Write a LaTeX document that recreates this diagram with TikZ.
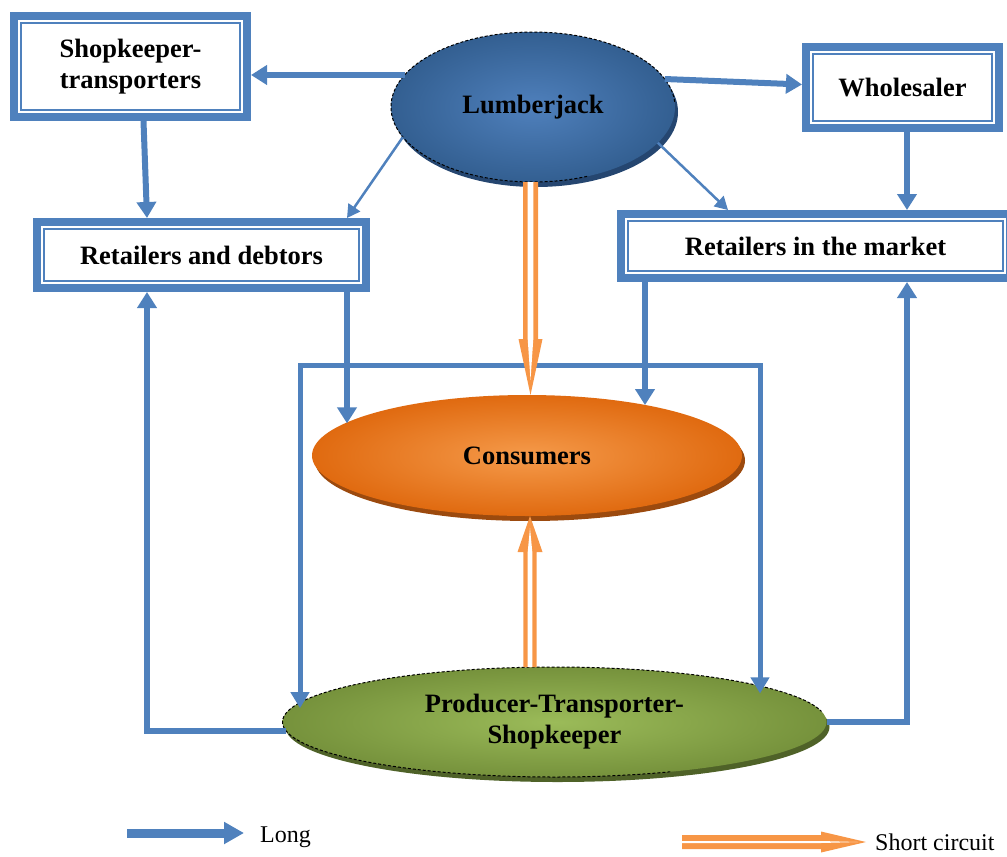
\documentclass[tikz,border=0pt]{standalone}
\usepackage{fontspec}
\setmainfont{Liberation Serif}
\usetikzlibrary{arrows.meta,shapes.geometric,calc,shadows}

\definecolor{lblue}{HTML}{4F81BD}
\definecolor{scor}{HTML}{F79646}
\definecolor{ljin}{HTML}{4F80BC}
\definecolor{ljout}{HTML}{335F91}
\definecolor{ljsh}{HTML}{254670}
\definecolor{coin}{HTML}{F59A4A}
\definecolor{coout}{HTML}{E06A10}
\definecolor{cosh}{HTML}{9C4A0E}
\definecolor{prin}{HTML}{9BBB59}
\definecolor{prout}{HTML}{76923C}
\definecolor{prsh}{HTML}{4F6228}

% #1 start, #2 end, #3 shaft half width, #4 head half width, #5 head length, #6 white half width, #7 inner tip offset
\newcommand{\shortarrowdraw}[7]{%
  \coordinate (scH) at ($(#2)!#5!(#1)$);
  \coordinate (scI) at ($(#2)!#7!(#1)$);
  \fill[scor] ($(#1)!#3!90:(#2)$) -- ($(scH)!#3!-90:(#1)$) -- ($(scH)!#4!-90:(#1)$) -- (#2)
     -- ($(scH)!#4!90:(#1)$) -- ($(scH)!#3!90:(#1)$) -- ($(#1)!#3!-90:(#2)$) -- cycle;
  \fill[white] ($(#1)!#6!90:(#2)$) -- ($(scH)!#6!-90:(#1)$) -- (scI)
     -- ($(scH)!#6!90:(#1)$) -- ($(#1)!#6!-90:(#2)$) -- cycle;
}

\tikzset{
  lbl/.style={font=\bfseries\fontsize{26.5}{31}\selectfont, align=center, text=black},
  box/.style={lbl, draw=lblue, line width=8pt, fill=white, inner sep=0pt},
  inbox/.style={draw=lblue, line width=2.2pt},
  oval/.style={lbl, ellipse, inner sep=0pt, outer sep=0pt},
  conn/.style={draw=lblue, line width=6pt, -{Triangle[length=16pt,width=19pt]}},
  thinconn/.style={draw=lblue, line width=2.5pt, -{Triangle[length=13pt,width=14pt]}},
  bracket/.style={draw=lblue, line width=5pt, {Triangle[length=16pt,width=18pt]}-{Triangle[length=16pt,width=18pt]}},
  outl/.style={draw=black, densely dashed, line width=1pt},
  legtext/.style={anchor=west, font=\fontsize{24}{28}\selectfont, inner sep=0pt},
}

\begin{document}
\begin{tikzpicture}[x=1pt,y=-1pt]
\useasboundingbox (0,0) rectangle (1007,857);
\clip (0,0) rectangle (1007,857);

% boxes
\node[box, minimum width=233, minimum height=101] (st) at (130.5,66.5) {Shopkeeper-\\transporters};
\node[box, minimum width=329, minimum height=66] (rd) at (201.5,255) {Retailers and debtors};
\node[box, minimum width=193, minimum height=81] (wh) at (902.5,87.5) {Wholesaler};
\node[box, minimum width=389, minimum height=64] (rm) at (815.5,246) {Retailers in the market};
\foreach \n in {st,rd,wh,rm}
  \draw[inbox] ([shift={(11,11)}]\n.north west) rectangle ([shift={(-11,-11)}]\n.south east);

% ellipses
\node[oval, minimum width=284, minimum height=150, inner color=ljin, outer color=ljout,
      general shadow={shadow xshift=3pt, shadow yshift=-5pt, fill=ljsh}] (lj) at (533,107) {Lumberjack};
\begin{scope}
  \clip (380,20) -- (700,20) -- (700,80) -- (560,200) -- (380,200) -- cycle;
  \draw[outl] (lj.center) ellipse [x radius=142, y radius=75];
\end{scope}

\node[oval, minimum width=430, minimum height=121, inner color=coin, outer color=coout,
      general shadow={shadow xshift=3pt, shadow yshift=-5pt, fill=cosh}] (con) at (527,455.5) {Consumers};

\node[oval, minimum width=544, minimum height=110, inner color=prin, outer color=prout,
      general shadow={shadow xshift=3pt, shadow yshift=-5pt, fill=prsh}] (pts) at (554.5,722) {Producer-Transporter-\\Shopkeeper};
\begin{scope}
  \clip (270,650) -- (850,650) -- (850,700) -- (600,800) -- (270,800) -- cycle;
  \draw[outl] (pts.center) ellipse [x radius=272, y radius=55];
\end{scope}

% blue connectors
\draw[conn] (lj.166) -- (lj.166 -| st.east);
\draw[conn] (lj.12) -- ($(wh.west)+(0,-3)$);
\draw[thinconn] (lj.193) -- ($(rd.north east)+(-23,0)$);
\draw[thinconn] (lj.344) -- ($(rm.north west)+(111,0)$);
\draw[conn] ($(st.south)+(13,0)$) -- ($(rd.north west)+(114,0)$);
\coordinate (w1) at ($(wh.south)+(4.5,0)$);
\draw[conn] (w1) -- (w1 |- rm.north);
\coordinate (r1) at ($(rd.south east)+(-23,0)$);
\draw[conn] (r1) -- (r1 |- con.170);
\coordinate (r2) at ($(rm.south west)+(28,0)$);
\draw[conn] (r2) -- (r2 |- con.23);
\coordinate (bl) at (300,365);
\coordinate (br) at (760,365);
\draw[bracket] (bl |- pts.177.5) -- (bl) -- (br) -- (br |- pts.7);
\draw[conn] (pts.182) -| ($(rd.south west)+(114,0)$);
\draw[conn] (pts.east) -| ($(rm.south west)+(290,0)$);

% short circuit arrows
\coordinate (o1s) at ($(lj.south)+(-2.5,0)$);
\coordinate (o1e) at (o1s |- con.north);
\shortarrowdraw{o1s}{o1e}{7.5pt}{12pt}{56pt}{2.8pt}{15pt}
\coordinate (o2s) at ($(pts.north)+(-24.5,0)$);
\coordinate (o2e) at (o2s |- con.south);
\shortarrowdraw{o2s}{o2e}{6.7pt}{12.5pt}{36pt}{2.3pt}{12pt}

% legend
\coordinate (la1) at (127,833);
\coordinate (la2) at (244,833);
\draw[draw=lblue, line width=9pt, -{Triangle[length=20pt,width=21pt]}] (la1) -- (la2);
\node[legtext] (ll) at (260,837) {Long};
\coordinate (lb1) at (682,842);
\coordinate (lb2) at (866,842);
\shortarrowdraw{lb1}{lb2}{7pt}{10.5pt}{45pt}{1pt}{8pt}
\node[legtext] (ls) at (875,842) {Short circuit};
\end{tikzpicture}
\end{document}
